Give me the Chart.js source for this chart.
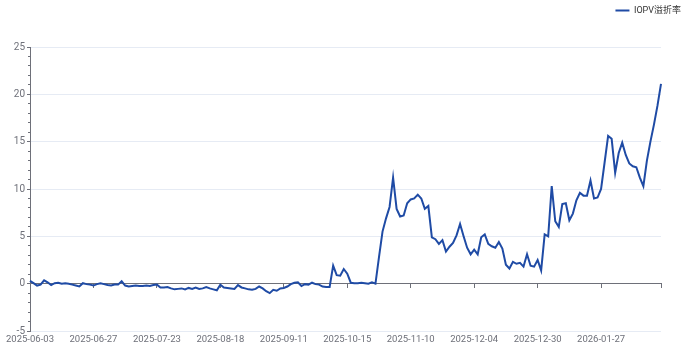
<!DOCTYPE html>
<html>
<head>
<meta charset="utf-8">
<script src="https://cdn.jsdelivr.net/npm/chart.js@4/dist/chart.umd.min.js"></script>
<style>
  html, body { margin: 0; padding: 0; background: #ffffff; }
  #wrap { width: 691px; height: 355px; position: relative; }
</style>
</head>
<body>
<div id="wrap"><canvas id="c" width="691" height="355"></canvas></div>
<script>
// ---- data ----
const categories = [
  '2025-06-03','2025-06-04','2025-06-05','2025-06-06','2025-06-09','2025-06-10','2025-06-11','2025-06-12','2025-06-13','2025-06-16',
  '2025-06-17','2025-06-18','2025-06-19','2025-06-20','2025-06-23','2025-06-24','2025-06-25','2025-06-26','2025-06-27','2025-06-30',
  '2025-07-01','2025-07-02','2025-07-03','2025-07-04','2025-07-07','2025-07-08','2025-07-09','2025-07-10','2025-07-11','2025-07-14',
  '2025-07-15','2025-07-16','2025-07-17','2025-07-18','2025-07-21','2025-07-22','2025-07-23','2025-07-24','2025-07-25','2025-07-28',
  '2025-07-29','2025-07-30','2025-07-31','2025-08-01','2025-08-04','2025-08-05','2025-08-06','2025-08-07','2025-08-08','2025-08-11',
  '2025-08-12','2025-08-13','2025-08-14','2025-08-15','2025-08-18','2025-08-19','2025-08-20','2025-08-21','2025-08-22','2025-08-25',
  '2025-08-26','2025-08-27','2025-08-28','2025-08-29','2025-09-01','2025-09-02','2025-09-03','2025-09-04','2025-09-05','2025-09-08',
  '2025-09-09','2025-09-10','2025-09-11','2025-09-12','2025-09-15','2025-09-16','2025-09-17','2025-09-18','2025-09-19','2025-09-22',
  '2025-09-23','2025-09-24','2025-09-25','2025-09-26','2025-09-29','2025-09-30','2025-10-09','2025-10-10','2025-10-13','2025-10-14',
  '2025-10-15','2025-10-16','2025-10-17','2025-10-20','2025-10-21','2025-10-22','2025-10-23','2025-10-24','2025-10-27','2025-10-28',
  '2025-10-29','2025-10-30','2025-10-31','2025-11-03','2025-11-04','2025-11-05','2025-11-06','2025-11-07','2025-11-10','2025-11-11',
  '2025-11-12','2025-11-13','2025-11-14','2025-11-17','2025-11-18','2025-11-19','2025-11-20','2025-11-21','2025-11-24','2025-11-25',
  '2025-11-26','2025-11-27','2025-11-28','2025-12-01','2025-12-02','2025-12-03','2025-12-04','2025-12-05','2025-12-08','2025-12-09',
  '2025-12-10','2025-12-11','2025-12-12','2025-12-15','2025-12-16','2025-12-17','2025-12-18','2025-12-19','2025-12-22','2025-12-23',
  '2025-12-24','2025-12-25','2025-12-26','2025-12-29','2025-12-30','2025-12-31','2026-01-05','2026-01-06','2026-01-07','2026-01-08',
  '2026-01-09','2026-01-12','2026-01-13','2026-01-14','2026-01-15','2026-01-16','2026-01-19','2026-01-20','2026-01-21','2026-01-22',
  '2026-01-23','2026-01-26','2026-01-27','2026-01-28','2026-01-29','2026-01-30','2026-02-02','2026-02-03','2026-02-04','2026-02-05',
  '2026-02-06','2026-02-09','2026-02-10','2026-02-11','2026-02-12','2026-02-13','2026-02-24','2026-02-25','2026-02-26','2026-02-27'
];

const iopvPremium = [
  0.3, 0.05, -0.2, -0.1, 0.35, 0.15, -0.15, 0.05, 0.1, 0.0,
  0.05, 0.0, -0.1, -0.2, -0.3, 0.05, -0.05, -0.1, -0.2, -0.05,
  0.05, -0.05, -0.15, -0.2, -0.1, -0.1, 0.25, -0.2, -0.3, -0.25,
  -0.2, -0.25, -0.25, -0.2, -0.25, -0.15, -0.1, -0.4, -0.4, -0.35,
  -0.5, -0.6, -0.55, -0.5, -0.6, -0.45, -0.55, -0.4, -0.55, -0.5,
  -0.35, -0.5, -0.6, -0.7, -0.1, -0.4, -0.45, -0.5, -0.55, -0.15,
  -0.4, -0.5, -0.6, -0.65, -0.55, -0.3, -0.5, -0.8, -1.0, -0.65,
  -0.75, -0.5, -0.45, -0.3, -0.05, 0.1, 0.15, -0.25, -0.05, -0.1,
  0.1, -0.05, -0.1, -0.3, -0.35, -0.35, 1.9, 0.9, 0.85, 1.55,
  1.05, 0.1, 0.05, 0.05, 0.1, 0.05, 0.0, 0.15, 0.0, 2.8,
  5.5, 6.9, 8.1, 11.2, 7.9, 7.1, 7.2, 8.5, 8.9, 9.0,
  9.4, 9.0, 7.9, 8.2, 4.9, 4.7, 4.2, 4.6, 3.4, 3.9,
  4.3, 5.1, 6.3, 5.0, 3.8, 3.1, 3.6, 3.1, 4.9, 5.2,
  4.2, 3.95, 3.8, 4.4, 3.7, 2.0, 1.6, 2.3, 2.1, 2.2,
  1.8, 3.1, 1.9, 1.8, 2.5, 1.4, 5.2, 5.0, 10.3, 6.6,
  6.0, 8.4, 8.5, 6.7, 7.4, 8.8, 9.6, 9.3, 9.3, 10.9,
  9.0, 9.1, 10.0, 12.8, 15.6, 15.3, 11.7, 13.8, 14.9, 13.6,
  12.7, 12.4, 12.3, 11.2, 10.3, 13.0, 15.0, 16.8, 18.8, 21.1
];

const seriesName = 'IOPV溢折率';
const yMin = -5, yMax = 25, yMajorStep = 5, yMinorStep = 1;
const labelEvery = 18;

// ---- styles ----
const LINE = '#1f4ba5';
const AXIS = '#6E7079';
const LABEL = '#6E7079';
const GRID = '#E6EBF4';
const FONT = 'Roboto, "Noto Sans", "Noto Sans CJK SC", sans-serif';
const lastIdx = categories.length - 1;

new Chart(document.getElementById('c'), {
  type: 'line',
  data: {
    labels: categories,
    datasets: [{
      label: seriesName,
      data: iopvPremium,
      borderColor: LINE,
      backgroundColor: LINE,
      borderWidth: 2,
      pointRadius: 0,
      pointHoverRadius: 0,
      tension: 0,
      fill: false,
      xAxisID: 'x',
      yAxisID: 'y'
    }]
  },
  options: {
    responsive: false,
    animation: false,
    events: [],
    layout: { padding: { top: -4, left: 0, right: 0, bottom: 0 } },
    plugins: {
      tooltip: { enabled: false },
      legend: {
        display: true,
        position: 'top',
        align: 'end',
        labels: {
          boxWidth: 14,
          boxHeight: 2,
          padding: 10,
          color: '#333333',
          font: { size: 9, family: FONT },
          generateLabels: (chart) => {
            const items = Chart.defaults.plugins.legend.labels.generateLabels(chart);
            items.forEach(it => { it.lineWidth = 0; it.fillStyle = LINE; it.strokeStyle = LINE; });
            return items;
          }
        }
      }
    },
    scales: {
      x: {
        type: 'category',
        position: 'bottom',
        offset: false,
        grid: { display: false, drawTicks: false },
        border: { display: false },
        ticks: {
          autoSkip: false,
          maxRotation: 0,
          minRotation: 0,
          padding: 3,
          color: LABEL,
          font: { size: 9.5, family: FONT },
          callback: function (value, index) {
            return index % labelEvery === 0 ? this.getLabelForValue(value) : '';
          }
        },
        afterFit: (s) => { s.height = 24; }
      },
      xZero: {
        type: 'category',
        axis: 'x',
        position: { y: 0 },
        offset: false,
        grid: {
          display: true,
          drawOnChartArea: false,
          drawTicks: true,
          tickLength: 4,
          tickWidth: 1,
          color: 'rgba(0,0,0,0)',
          tickColor: (ctx) => (ctx.index % labelEvery === 0 || ctx.index === lastIdx) ? AXIS : 'rgba(0,0,0,0)'
        },
        border: { display: true, color: AXIS, width: 1 },
        ticks: { display: false, autoSkip: false }
      },
      xTop: {
        type: 'category',
        position: 'top',
        grid: { display: false, drawTicks: false },
        border: { display: false },
        ticks: { display: false },
        afterFit: (s) => { s.height = 22; }
      },
      y: {
        type: 'linear',
        position: 'left',
        min: yMin,
        max: yMax,
        grid: {
          display: true,
          drawOnChartArea: true,
          drawTicks: true,
          tickLength: 3,
          color: GRID,
          tickColor: AXIS
        },
        border: { display: true, color: AXIS, width: 1 },
        ticks: {
          stepSize: yMajorStep,
          padding: 2,
          color: LABEL,
          font: { size: 10, family: FONT }
        },
        afterFit: (s) => { s.width = 30; }
      },
      yMinor: {
        type: 'linear',
        axis: 'y',
        position: { x: 0 },
        min: yMin,
        max: yMax,
        grid: {
          display: true,
          drawOnChartArea: false,
          drawTicks: true,
          tickLength: 2,
          color: 'rgba(0,0,0,0)',
          tickColor: AXIS
        },
        border: { display: false },
        ticks: { display: false, stepSize: yMinorStep, maxTicksLimit: 100 }
      },
      yRight: {
        type: 'linear',
        position: 'right',
        grid: { display: false, drawTicks: false },
        border: { display: false },
        ticks: { display: false },
        afterFit: (s) => { s.width = 30; }
      }
    }
  }
});
</script>
</body>
</html>
